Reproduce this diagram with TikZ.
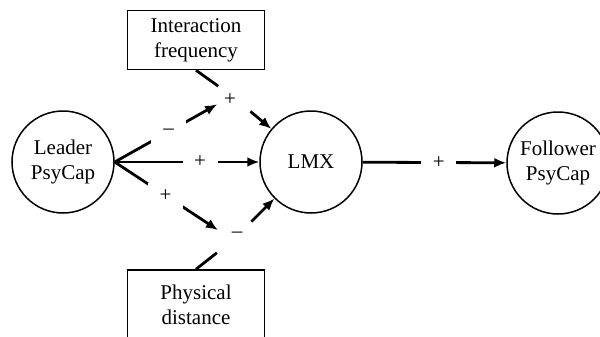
\documentclass[tikz,border=0pt]{standalone}
\usepackage{fontspec}
\setmainfont{Liberation Serif}
\usetikzlibrary{arrows.meta}

\begin{document}
\begin{tikzpicture}[x=0.5pt,y=-0.5pt,>={Latex[length=6pt,width=5pt]},
        every node/.style={font=\fontsize{10.5}{12.5}\selectfont},
        var/.style={draw,circle,line width=0.75pt,minimum size=51pt,inner sep=0pt,align=center},
        mod/.style={draw,rectangle,line width=0.75pt,minimum width=68.5pt,minimum height=29.5pt,inner sep=0pt,align=center},
        link/.style={line width=1.4pt},
        gap/.style={fill=white,minimum width=17.5pt,minimum height=13pt,inner sep=0pt}]
        \useasboundingbox (0,0) rectangle (600,337);
        \clip (0,0) rectangle (600,337);

        \node[var] (leader) at (63,162) {Leader\\PsyCap};
        \node[var] (lmx) at (311,162) {LMX};
        \node[var] (follower) at (558,163) {Follower\\PsyCap};
        \node[mod] (freq) at (196,40) {Interaction\\frequency};
        \node[mod,minimum height=35pt] (dist) at (196,305) {Physical\\distance};

        \coordinate (jtop) at (232,96);
        \coordinate (jbot) at (233,240);
        \node (stop) at (230,100) {+};
        \node (sbot) at (237,235) {--};

        \draw[link,->] (leader.east) -- node[gap,pos=0.59]{+} (lmx);
        \draw[link,->,shorten >=8.5pt] (leader.east) -- node[gap,pos=0.46]{--} (jtop);
        \draw[link,->,shorten >=9pt] (leader.east) -- node[gap,pos=0.43]{+} (jbot);
        \draw[link,->,shorten <=12pt] (jtop) -- (lmx);
        \draw[link,->,shorten <=13pt] (jbot) -- (lmx);
        \draw[link,shorten >=8.5pt] (freq.south) -- (jtop);
        \draw[link,shorten >=10.3pt] (dist.north) -- (jbot);
        \draw[link,->] (lmx) -- node[gap,pos=0.53]{+} (follower);

    \end{tikzpicture}
\end{document}
